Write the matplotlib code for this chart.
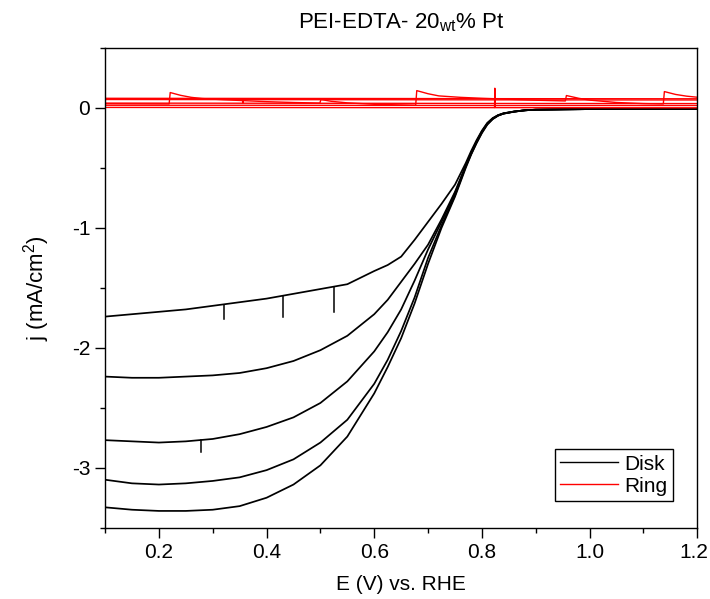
import matplotlib
matplotlib.use("Agg")
import matplotlib.pyplot as plt
from matplotlib.ticker import MultipleLocator, FormatStrFormatter, FuncFormatter
from matplotlib.lines import Line2D

plt.rcParams['font.family'] = ['Liberation Sans', 'DejaVu Sans']
plt.rcParams['mathtext.fontset'] = 'custom'
plt.rcParams['mathtext.rm'] = 'Liberation Sans'
plt.rcParams['mathtext.it'] = 'Liberation Sans:italic'
plt.rcParams['axes.unicode_minus'] = False

# Potential grid (V vs. RHE) shared by the disk sweeps
E_disk = [0.10, 0.15, 0.20, 0.25, 0.30, 0.35, 0.40, 0.45, 0.50, 0.55, 0.60,
          0.625, 0.65, 0.675, 0.70, 0.725, 0.75, 0.76, 0.77, 0.78, 0.79, 0.80,
          0.81, 0.82, 0.83, 0.84, 0.86, 0.88, 0.90, 0.95, 1.00, 1.10, 1.20]

# Disk current density (mA/cm2) at increasing rotation rates
disk_1 = [-1.74, -1.72, -1.70, -1.68, -1.65, -1.62, -1.59, -1.55, -1.51, -1.47, -1.36,
          -1.31, -1.24, -1.10, -0.95, -0.80, -0.64, -0.55,
          -0.46, -0.36, -0.27, -0.19, -0.125, -0.085, -0.06, -0.045, -0.03,
          -0.02, -0.015, -0.012, -0.010, -0.010, -0.010]
disk_2 = [-2.24, -2.25, -2.25, -2.24, -2.23, -2.21, -2.17, -2.11, -2.02, -1.90, -1.72,
          -1.60, -1.45, -1.30, -1.14, -0.93, -0.70, -0.59,
          -0.48, -0.375, -0.28, -0.195, -0.13, -0.088, -0.062, -0.046, -0.03,
          -0.02, -0.015, -0.012, -0.010, -0.010, -0.010]
disk_3 = [-2.77, -2.78, -2.79, -2.78, -2.76, -2.72, -2.66, -2.58, -2.46, -2.28, -2.03,
          -1.87, -1.68, -1.44, -1.18, -0.95, -0.71, -0.60,
          -0.485, -0.38, -0.285, -0.20, -0.133, -0.09, -0.063, -0.047, -0.031,
          -0.02, -0.015, -0.012, -0.010, -0.010, -0.010]
disk_4 = [-3.10, -3.13, -3.14, -3.13, -3.11, -3.08, -3.02, -2.93, -2.79, -2.60, -2.30,
          -2.10, -1.86, -1.58, -1.25, -0.98, -0.73, -0.61,
          -0.49, -0.385, -0.29, -0.205, -0.136, -0.092, -0.064, -0.048, -0.031,
          -0.02, -0.015, -0.012, -0.010, -0.010, -0.010]
disk_5 = [-3.33, -3.35, -3.36, -3.36, -3.35, -3.32, -3.25, -3.14, -2.98, -2.74, -2.38,
          -2.16, -1.92, -1.63, -1.30, -1.00, -0.74, -0.62,
          -0.50, -0.39, -0.295, -0.21, -0.14, -0.094, -0.065, -0.048, -0.032,
          -0.02, -0.015, -0.012, -0.010, -0.010, -0.010]

# Sharp current spikes on the disk sweeps: (potential, baseline, spike tip)
disk_1_spikes = [(0.320, -1.645, -1.76), (0.430, -1.57, -1.74), (0.525, -1.49, -1.70)]
disk_3_spikes = [(0.278, -2.77, -2.87)]

# Ring current density (mA/cm2): one sweep with charging steps, several flat sweeps
E_ring_a = [0.10, 0.219, 0.221, 0.24, 0.26, 0.28, 0.32, 0.36, 0.40, 0.45, 0.499,
            0.501, 0.52, 0.55, 0.60, 0.677, 0.679, 0.70, 0.72, 0.76, 0.80, 0.85,
            0.90, 0.955, 0.957, 0.98, 1.00, 1.05, 1.10, 1.137, 1.139, 1.16, 1.18, 1.20]
ring_a = [0.035, 0.033, 0.128, 0.105, 0.088, 0.078, 0.068, 0.060, 0.052, 0.045, 0.040,
          0.070, 0.055, 0.042, 0.030, 0.022, 0.144, 0.118, 0.100, 0.088, 0.080, 0.072,
          0.064, 0.058, 0.103, 0.080, 0.065, 0.045, 0.036, 0.033, 0.136, 0.112, 0.098, 0.089]

E_ring_flat = [0.10, 0.355, 0.356, 0.357, 0.65, 0.8235, 0.824, 0.8245, 1.20]
ring_b = [0.080, 0.079, 0.079, 0.079, 0.078, 0.077, 0.077, 0.077, 0.076]
ring_c = [0.070, 0.069, 0.040, 0.069, 0.068, 0.067, 0.067, 0.067, 0.066]
ring_d = [0.040, 0.039, 0.039, 0.039, 0.038, 0.037, 0.037, 0.037, 0.036]
ring_e = [0.022, 0.022, 0.022, 0.022, 0.021, 0.020, 0.020, 0.020, 0.020]
ring_f = [0.004, 0.003, 0.003, 0.003, 0.002, 0.002, 0.164, 0.002, 0.001]

X_MAX = 1.2

fig = plt.figure(figsize=(7.10, 5.99), dpi=100)
ax = fig.add_axes([0.148, 0.119, 0.834, 0.801])

lw = 1.25
for j in (disk_1, disk_2, disk_3, disk_4, disk_5):
    ax.plot(E_disk, j, color='black', lw=lw)
for e, base, tip in disk_1_spikes + disk_3_spikes:
    ax.plot([e, e], [base, tip], color='black', lw=1.1)

ax.plot(E_ring_a, ring_a, color='red', lw=1.0)
for r in (ring_b, ring_c, ring_d, ring_e, ring_f):
    ax.plot(E_ring_flat, r, color='red', lw=1.0)

ax.set_xlim(0.1, X_MAX)
ax.set_ylim(-3.5, 0.5)

tick_len = 7.2   # points
tick_pad = 3.5
ax.xaxis.set_major_locator(MultipleLocator(0.2))
ax.xaxis.set_minor_locator(MultipleLocator(0.1))
# the label at the right edge is placed separately so it stays on the canvas
ax.xaxis.set_major_formatter(FuncFormatter(
    lambda v, pos: '' if abs(v - X_MAX) < 1e-6 else f'{v:.1f}'))
ax.yaxis.set_major_locator(MultipleLocator(1))
ax.yaxis.set_minor_locator(MultipleLocator(0.5))
ax.yaxis.set_major_formatter(FormatStrFormatter('%d'))
ax.tick_params(which='major', direction='out', length=tick_len, width=1.0,
               labelsize=15, pad=tick_pad)
ax.tick_params(which='minor', direction='out', length=tick_len / 2, width=1.0)
ax.tick_params(top=False, right=False)
for s in ax.spines.values():
    s.set_linewidth(1.0)

ax.annotate(f'{X_MAX:.1f}', xy=(X_MAX, 0), xycoords=('data', 'axes fraction'),
            xytext=(-2.5, -(tick_len + tick_pad)), textcoords='offset points',
            ha='center', va='top', fontsize=15, annotation_clip=False)

ax.set_xlabel('E (V) vs. RHE', fontsize=15, labelpad=10)
ax.set_ylabel('j (mA/cm$^2$)', fontsize=16, labelpad=14)
ax.set_title('PEI-EDTA- 20$_{\\rm wt}$% Pt', fontsize=16, pad=14)

handles = [Line2D([], [], color='black', lw=1.0), Line2D([], [], color='red', lw=1.0)]
leg = ax.legend(handles, ['Disk', 'Ring'], loc='lower right', fontsize=15,
                frameon=True, fancybox=False, framealpha=1, edgecolor='black',
                borderpad=0.25, labelspacing=0.15, handlelength=2.8, handletextpad=0.3,
                borderaxespad=0, bbox_to_anchor=(0.959, 0.056))
leg.get_frame().set_linewidth(1.0)

fig.savefig('out.png', dpi=100)
